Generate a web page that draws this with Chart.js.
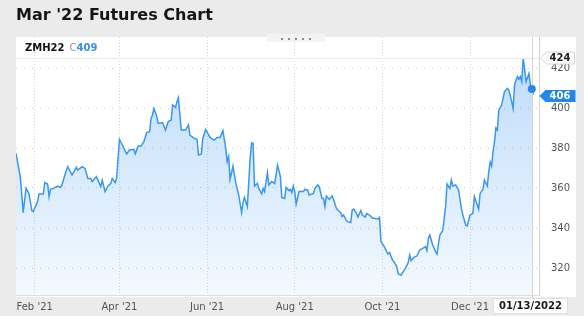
<!DOCTYPE html>
<html><head><meta charset="utf-8">
<script src="https://cdn.jsdelivr.net/npm/chart.js@4"></script>
<style>
html,body{margin:0;padding:0;background:#ebebeb;}
body{width:584px;height:316px;position:relative;overflow:hidden;}
#c{position:absolute;left:0;top:0;}
</style></head>
<body>
<canvas id="c" width="584" height="316"></canvas>
<script>
// ---- data (days counted from 2021-01-01) ----
const days = [18,21,23,25,27,29,30,33,34,37,38,40,41,42,44,47,49,50,52,54,57,60,61,64,66,68,70,71,74,77,78,80,82,84,85,87,88,
90,92,95,97,100,101,103,105,107,109,111,112,113,114,116,117,120,122,124,126,127,129,130,131,133,136,138,139,142,144,145,147,148,150,
153,154,156,158,160,162,164,165,166,167,169,171,173,175,176,177,179,181,182,183,184,186,187,189,190,191,193,194,196,198,199,200,
202,203,205,206,208,209,210,211,212,213,215,218,219,221,222,225,226,228,229,231,232,233,234,236,238,239,241,242,244,245,246,248,
249,251,252,253,255,256,258,259,261,262,264,266,268,270,271,272,274,276,277,278,280,281,283,284,286,288,289,291,292,293,295,297,
299,301,303,304,305,306,308,310,311,313,315,317,318,320,321,322,324,326,328,329,331,332,334,336,337,339,340,341,343,344,346,
347,348,349,350,351,352,353,354,356,358,360,361,363,364,365,366,367,368,369,370,371,372,373,375,376,377,378];
const prices = [377.3,365.7,347.7,359.8,357.3,348.7,348.2,353.2,357,357,362.7,362,355.7,359.3,359.8,361,360.3,361.5,366.5,370.7,366.5,370.3,369,370.7,369.8,364.8,364.8,363.2,365.7,360.7,364,358.2,361,362.3,364.8,362.7,364.8,
384.3,381.5,377,379,379.3,377,381,381,383.2,387.7,388.2,394.8,396.5,399.8,395.7,392.3,392.7,389,393.2,394,401.5,400.3,403.2,405.2,389,389,391.5,386.5,384.8,384.3,376.5,377,384.8,389.3,
385.3,384.8,384,385.3,385.3,388.7,379.8,373.2,375.7,364.3,371,362.3,356.5,347.7,352.7,355.3,350.7,375.3,382.7,382.3,361,362.3,359.8,357,359.8,358.2,367.7,361.5,363.2,362.3,366.5,371.5,
365.7,355.3,354.8,360.3,358.7,359.3,357.7,361,358.2,352,358.2,358.2,359.3,359,356.5,357.3,359.8,361.5,360.7,354.8,354.8,350.7,356,354.3,356,354.3,349.8,349,347.7,345.7,346.5,343.6,
343.2,342.7,349,349.5,347.3,345.5,348.7,346.5,345.5,347.2,346.5,345,344.8,344.5,345.3,333.2,331,328.2,327,327.7,324,323.2,320.7,317,316.5,318.7,319.8,322.7,326.5,323.7,325.3,326,
329,329.8,330.7,328.7,334.8,336.5,331.5,328.2,327,336.5,338.7,350.7,362,359.8,364,361,361.5,359,349.8,346.5,341.5,341,346.5,347.3,355.7,351.5,349.3,357.3,359.3,364,361,
368,373,371,378,383,390,389,399,401.5,408.2,409.8,409,403.2,399.8,411.5,414,415.7,414.3,415.7,413.2,425,419.3,413.2,417.3,411.5,409.5,406.5];
const monthTickDays = [31,90,151,212,273,334];
const monthTickLabels = ["Feb '21","Apr '21","Jun '21","Aug '21","Oct '21","Dec '21"];
const priceTicks = [320,340,360,380,400,420];
const symbol = "ZMH22";
const lastClose = 409;
const lastPrice = 406;
const highPrice = 424;
const currentDay = 377;
const currentDateLabel = "01/13/2022";
const chartTitle = "Mar '22 Futures Chart";

const FONT = '"DejaVu Sans", "Liberation Sans", sans-serif';

function arrowBox(ctx, tipX, cy, w, h, fill, stroke) {
  const a = 6;
  ctx.beginPath();
  ctx.moveTo(tipX, cy);
  ctx.lineTo(tipX + a, cy - h/2);
  ctx.lineTo(tipX + w, cy - h/2);
  ctx.lineTo(tipX + w, cy + h/2);
  ctx.lineTo(tipX + a, cy + h/2);
  ctx.closePath();
  ctx.fillStyle = fill; ctx.fill();
  if (stroke) { ctx.strokeStyle = stroke; ctx.lineWidth = 1; ctx.stroke(); }
}

const decor = {
  id: 'decor',
  beforeDraw(chart) {
    const ctx = chart.ctx;
    ctx.save();
    ctx.fillStyle = '#ebebeb';
    ctx.fillRect(0, 0, chart.width, chart.height);
    ctx.fillStyle = '#ffffff';
    ctx.fillRect(16, 37, 560, 260);
    // drag tab
    ctx.fillStyle = '#f3f3f3';
    ctx.fillRect(267, 34, 58, 8);
    ctx.fillStyle = '#8a8a8a';
    for (let i = 0; i < 5; i++) ctx.fillRect(281 + i*7, 38, 2, 2);
    // title
    ctx.fillStyle = '#151515';
    ctx.font = 'bold 16px ' + FONT;
    ctx.textBaseline = 'alphabetic';
    ctx.textAlign = 'left';
    ctx.fillText(chartTitle, 16, 20);
    ctx.restore();
  },
  afterDatasetsDraw(chart) {
    const ctx = chart.ctx;
    const xs = chart.scales.x, ys = chart.scales.y;
    const area = chart.chartArea;
    ctx.save();
    // header separator
    ctx.strokeStyle = '#e8e8e8';
    ctx.lineWidth = 1;
    ctx.beginPath(); ctx.moveTo(area.left, 58.5); ctx.lineTo(area.right, 58.5); ctx.stroke();
    // current date line
    const cx = Math.round(xs.getPixelForValue(currentDay)) + 0.5;
    ctx.strokeStyle = '#d4d4d4';
    ctx.beginPath(); ctx.moveTo(cx, 37); ctx.lineTo(cx, 299); ctx.stroke();
    // header text
    ctx.textBaseline = 'alphabetic';
    ctx.font = 'bold 10px ' + FONT;
    ctx.fillStyle = '#111';
    ctx.fillText(symbol, 25, 51);
    let w = ctx.measureText(symbol).width;
    ctx.font = '10px ' + FONT;
    ctx.fillStyle = '#9a9a9a';
    ctx.fillText('C', 25 + w + 5, 51);
    const wc = ctx.measureText('C').width;
    ctx.font = 'bold 10px ' + FONT;
    ctx.fillStyle = '#3a8ff0';
    ctx.fillText(String(lastClose), 25 + w + 5 + wc, 51);
    // last close dot
    ctx.beginPath();
    ctx.arc(xs.getPixelForValue(currentDay), ys.getPixelForValue(lastClose + 0.5), 4, 0, Math.PI*2);
    ctx.fillStyle = '#2a86ee'; ctx.fill();
    // high label
    const hy = ys.getPixelForValue(Math.max(...prices));
    arrowBox(ctx, 540.5, hy, 34, 12, '#ffffff', '#d6d6d6');
    ctx.fillStyle = '#222';
    ctx.font = 'bold 10px ' + FONT;
    ctx.textAlign = 'center'; ctx.textBaseline = 'middle';
    ctx.fillText(String(highPrice), 560, hy + 0.5);
    // last price label
    const ly = ys.getPixelForValue(lastPrice);
    arrowBox(ctx, 539.5, ly, 36, 12, '#1f87ee', null);
    ctx.fillStyle = '#ffffff';
    ctx.fillText(String(lastPrice), 560, ly + 0.5);
    // current date box
    ctx.fillStyle = '#ffffff';
    ctx.fillRect(493, 298, 75, 16);
    ctx.strokeStyle = '#e0e0e0';
    ctx.strokeRect(493.5, 298.5, 74, 15);
    ctx.fillStyle = '#1a1a1a';
    ctx.font = 'bold 10px ' + FONT;
    ctx.fillText(currentDateLabel, 530.5, 306.5);
    ctx.restore();
  }
};

new Chart(document.getElementById('c'), {
  type: 'line',
  data: {
    datasets: [{
      data: days.map((d, i) => ({ x: d, y: prices[i] })),
      borderColor: '#3897f5',
      borderWidth: 1.5,
      pointRadius: 0,
      tension: 0,
      fill: 'start',
      backgroundColor: (ctx) => {
        const ca = ctx.chart.chartArea;
        if (!ca) return 'rgba(40,140,240,0.2)';
        const g = ctx.chart.ctx.createLinearGradient(0, ca.top, 0, ca.bottom);
        g.addColorStop(0, 'rgba(40,140,240,0.32)');
        g.addColorStop(1, 'rgba(40,140,240,0.05)');
        return g;
      }
    }]
  },
  options: {
    responsive: false,
    animation: false,
    events: [],
    layout: { padding: { left: 16, top: 37, right: 8, bottom: 0 } },
    plugins: { legend: { display: false }, tooltip: { enabled: false }, title: { display: false } },
    scales: {
      x: {
        type: 'linear',
        position: 'bottom',
        min: 18, max: 382,
        afterBuildTicks: (s) => { s.ticks = monthTickDays.map(v => ({ value: v })); },
        afterFit: (s) => { s.height = 21; },
        ticks: {
          autoSkip: false, maxRotation: 0, padding: 6,
          color: '#555', font: { family: FONT, size: 10 },
          callback: (v) => monthTickLabels[monthTickDays.indexOf(v)]
        },
        grid: { color: '#d6d6d6', drawTicks: false, lineWidth: 1 },
        border: { display: true, color: '#dedede', dash: [1, 2] }
      },
      y: {
        type: 'linear',
        position: 'right',
        min: 306.5, max: 435.5,
        afterBuildTicks: (s) => { s.ticks = priceTicks.map(v => ({ value: v })); },
        afterFit: (s) => { s.width = 37; },
        ticks: { padding: 12, color: '#555', font: { family: FONT, size: 10 } },
        grid: { color: '#c8c8c8', drawTicks: false, lineWidth: 1 },
        border: { display: true, color: '#d2d2d2', dash: [1, 7] }
      }
    }
  },
  plugins: [decor]
});
</script>
</body></html>
